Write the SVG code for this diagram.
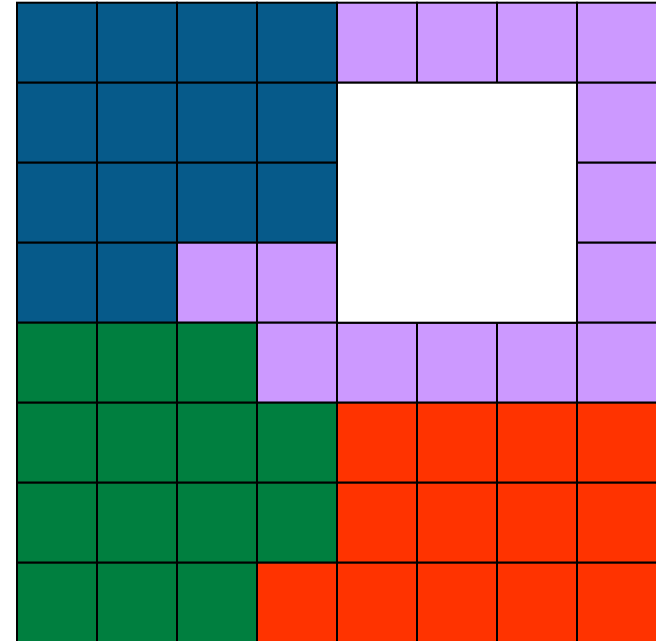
<svg xmlns="http://www.w3.org/2000/svg" width="656" height="641" viewBox="0 0 656 641">
<style>
rect{stroke:#000;stroke-width:2}
.b{fill:#065a8a}.p{fill:#cc99ff}.g{fill:#007f3f}.r{fill:#ff3300}.w{fill:#fff}
</style>
<rect width="656" height="641" fill="#fff" style="stroke:none"/>
<g transform="translate(17,2.7)">
<g id="blue">
<rect class="b" x="0" y="0" width="80" height="80"/><rect class="b" x="80" y="0" width="80" height="80"/><rect class="b" x="160" y="0" width="80" height="80"/><rect class="b" x="240" y="0" width="80" height="80"/>
<rect class="b" x="0" y="80" width="80" height="80"/><rect class="b" x="80" y="80" width="80" height="80"/><rect class="b" x="160" y="80" width="80" height="80"/><rect class="b" x="240" y="80" width="80" height="80"/>
<rect class="b" x="0" y="160" width="80" height="80"/><rect class="b" x="80" y="160" width="80" height="80"/><rect class="b" x="160" y="160" width="80" height="80"/><rect class="b" x="240" y="160" width="80" height="80"/>
<rect class="b" x="0" y="240" width="80" height="80"/><rect class="b" x="80" y="240" width="80" height="80"/>
</g>
<g id="purple">
<rect class="p" x="320" y="0" width="80" height="80"/><rect class="p" x="400" y="0" width="80" height="80"/><rect class="p" x="480" y="0" width="80" height="80"/><rect class="p" x="560" y="0" width="80" height="80"/>
<rect class="p" x="560" y="80" width="80" height="80"/><rect class="p" x="560" y="160" width="80" height="80"/>
<rect class="p" x="160" y="240" width="80" height="80"/><rect class="p" x="240" y="240" width="80" height="80"/><rect class="p" x="560" y="240" width="80" height="80"/>
<rect class="p" x="240" y="320" width="80" height="80"/><rect class="p" x="320" y="320" width="80" height="80"/><rect class="p" x="400" y="320" width="80" height="80"/><rect class="p" x="480" y="320" width="80" height="80"/><rect class="p" x="560" y="320" width="80" height="80"/>
</g>
<g id="hole">
<rect class="w" x="320" y="80" width="240" height="240"/>
</g>
<g id="green">
<rect class="g" x="0" y="320" width="80" height="80"/><rect class="g" x="80" y="320" width="80" height="80"/><rect class="g" x="160" y="320" width="80" height="80"/>
<rect class="g" x="0" y="400" width="80" height="80"/><rect class="g" x="80" y="400" width="80" height="80"/><rect class="g" x="160" y="400" width="80" height="80"/><rect class="g" x="240" y="400" width="80" height="80"/>
<rect class="g" x="0" y="480" width="80" height="80"/><rect class="g" x="80" y="480" width="80" height="80"/><rect class="g" x="160" y="480" width="80" height="80"/><rect class="g" x="240" y="480" width="80" height="80"/>
<rect class="g" x="0" y="560" width="80" height="80"/><rect class="g" x="80" y="560" width="80" height="80"/><rect class="g" x="160" y="560" width="80" height="80"/>
</g>
<g id="red">
<rect class="r" x="320" y="400" width="80" height="80"/><rect class="r" x="400" y="400" width="80" height="80"/><rect class="r" x="480" y="400" width="80" height="80"/><rect class="r" x="560" y="400" width="80" height="80"/>
<rect class="r" x="320" y="480" width="80" height="80"/><rect class="r" x="400" y="480" width="80" height="80"/><rect class="r" x="480" y="480" width="80" height="80"/><rect class="r" x="560" y="480" width="80" height="80"/>
<rect class="r" x="240" y="560" width="80" height="80"/><rect class="r" x="320" y="560" width="80" height="80"/><rect class="r" x="400" y="560" width="80" height="80"/><rect class="r" x="480" y="560" width="80" height="80"/><rect class="r" x="560" y="560" width="80" height="80"/>
</g>
</g>
</svg>
